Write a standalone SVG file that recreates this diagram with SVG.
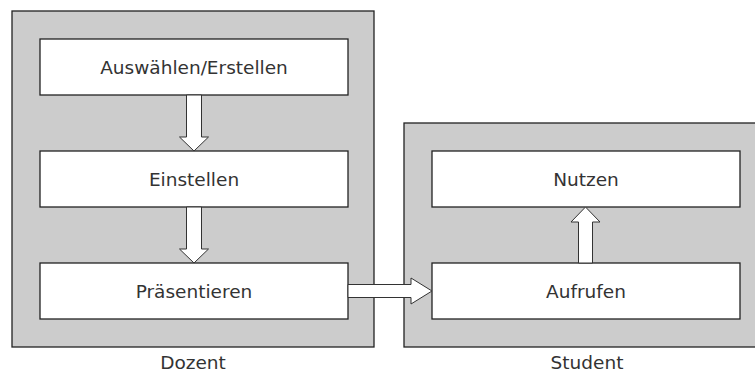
<svg xmlns="http://www.w3.org/2000/svg" width="755" height="372" viewBox="0 0 755 372">
<style>
.lane{fill:#cccccc;stroke:#222;stroke-width:1.3}
.box{fill:#fff;stroke:#222;stroke-width:1.3}
.arr{fill:#fff;stroke:#333;stroke-width:1}
text{font-family:"DejaVu Sans",sans-serif;font-size:18.5px;fill:#333;text-anchor:middle}
</style>
<g id="lane-dozent">
<rect class="lane" x="12" y="11" width="362" height="336"/>
<text x="193" y="369">Dozent</text>
</g>
<g id="lane-student">
<rect class="lane" x="404" y="123" width="352" height="224"/>
<text x="587" y="369">Student</text>
</g>
<g id="node-auswaehlen">
<rect class="box" x="40" y="39" width="308" height="56"/>
<text x="194" y="74">Auswählen/Erstellen</text>
</g>
<g id="node-einstellen">
<rect class="box" x="40" y="151" width="308" height="56"/>
<text x="194" y="186">Einstellen</text>
</g>
<g id="node-praesentieren">
<rect class="box" x="40" y="263" width="308" height="56"/>
<text x="194" y="298">Präsentieren</text>
</g>
<g id="node-nutzen">
<rect class="box" x="432" y="151" width="308" height="56"/>
<text x="586" y="186">Nutzen</text>
</g>
<g id="node-aufrufen">
<rect class="box" x="432" y="263" width="308" height="56"/>
<text x="586" y="298">Aufrufen</text>
</g>
<g id="connectors">
<path class="arr" d="M186.5,95 V137 H179.5 L194,151 L208.5,137 H201.5 V95 Z"/>
<path class="arr" d="M186.5,207 V249 H179.5 L194,263 L208.5,249 H201.5 V207 Z"/>
<path class="arr" d="M348,284.5 H411 V278 L432,291 L411,304 V297.5 H348 Z"/>
<path class="arr" d="M578.5,263 V222 H571 L585.5,207 L600,222 H592.5 V263 Z"/>
</g>
</svg>
